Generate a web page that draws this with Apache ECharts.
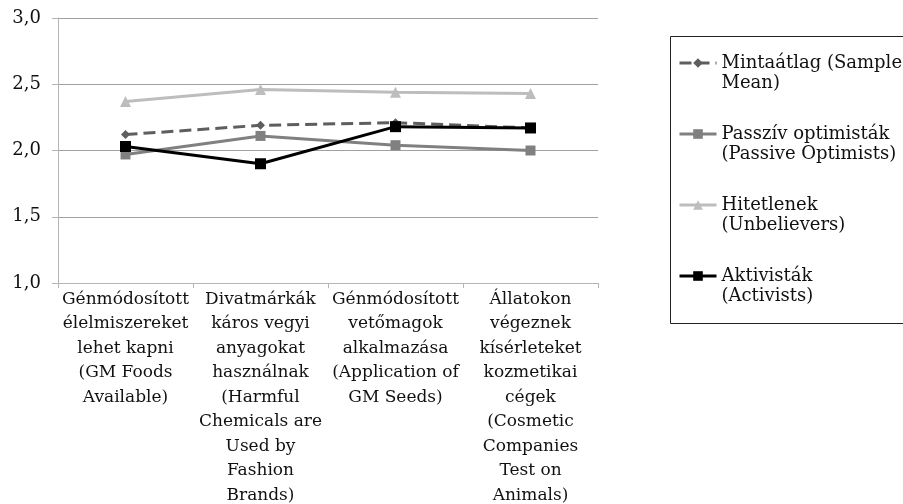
<!DOCTYPE html>
<html>
<head>
<meta charset="utf-8">
<script src="https://cdn.jsdelivr.net/npm/echarts@6/dist/echarts.min.js"></script>
<style>
  html, body { margin: 0; padding: 0; background: #fff; }
  #chart { width: 903px; height: 504px; }
</style>
</head>
<body>
<div id="chart"></div>
<script>
const categories = [
  'Génmódosított\nélelmiszereket\nlehet kapni\n(GM Foods\nAvailable)',
  'Divatmárkák\nkáros vegyi\nanyagokat\nhasználnak\n(Harmful\nChemicals are\nUsed by\nFashion\nBrands)',
  'Génmódosított\nvetőmagok\nalkalmazása\n(Application of\nGM Seeds)',
  'Állatokon\nvégeznek\nkísérleteket\nkozmetikai\ncégek\n(Cosmetic\nCompanies\nTest on\nAnimals)'
];
const seriesNames = [
  'Mintaátlag (Sample\nMean)',
  'Passzív optimisták\n(Passive Optimists)',
  'Hitetlenek\n(Unbelievers)',
  'Aktivisták\n(Activists)'
];
const sampleMean = [2.12, 2.19, 2.21, 2.17];
const passiveOptimists = [1.97, 2.11, 2.04, 2.00];
const unbelievers = [2.37, 2.46, 2.44, 2.43];
const activists = [2.03, 1.90, 2.18, 2.17];

const font = 'DejaVu Serif';

const chart = echarts.init(document.getElementById('chart'));
chart.setOption({
  animation: false,
  grid: {
    left: 58, right: 305, top: 18, bottom: 221,
    containLabel: false,
    outerBoundsMode: 'none'
  },
  legend: {
    orient: 'vertical',
    left: 678,
    top: 33,
    padding: 0,
    itemGap: 11,
    itemWidth: 37,
    itemHeight: 12,
    lineStyle: { width: 3 },
    // blank first line so the icon sits on the first text line
    formatter: name => '\u00a0\n' + name,
    textStyle: {
      fontFamily: font,
      fontSize: 18,
      lineHeight: 20,
      color: '#111'
    },
    data: seriesNames
  },
  graphic: [{
    type: 'rect',
    shape: { x: 670.5, y: 36.5, width: 400, height: 287 },
    style: { fill: 'none', stroke: '#222', lineWidth: 1 },
    silent: true
  }],
  xAxis: {
    type: 'category',
    data: categories,
    axisLine: { lineStyle: { color: '#b5b5b5', width: 1 } },
    axisTick: { show: true, length: 5, lineStyle: { color: '#b5b5b5' } },
    axisLabel: {
      interval: 0,
      margin: 4,
      fontFamily: font,
      fontSize: 17,
      lineHeight: 24.5,
      color: '#111'
    }
  },
  yAxis: {
    type: 'value',
    min: 1,
    max: 3,
    interval: 0.5,
    axisLine: { show: true, lineStyle: { color: '#b5b5b5', width: 1 } },
    axisTick: { show: true, length: 6, lineStyle: { color: '#b5b5b5' } },
    splitLine: { lineStyle: { color: '#a0a0a0', width: 1 } },
    axisLabel: {
      margin: 17,
      fontFamily: font,
      fontSize: 18,
      color: '#111',
      formatter: v => v.toFixed(1).replace('.', ',')
    }
  },
  series: [
    {
      name: seriesNames[0], type: 'line', data: sampleMean,
      symbol: 'diamond', symbolSize: 9,
      lineStyle: { color: '#5e5e5e', width: 3, type: [12, 6] },
      itemStyle: { color: '#5e5e5e' }
    },
    {
      name: seriesNames[1], type: 'line', data: passiveOptimists,
      symbol: 'rect', symbolSize: 10,
      lineStyle: { color: '#808080', width: 3 },
      itemStyle: { color: '#808080' }
    },
    {
      name: seriesNames[2], type: 'line', data: unbelievers,
      symbol: 'triangle', symbolSize: 11,
      lineStyle: { color: '#bdbdbd', width: 3 },
      itemStyle: { color: '#bdbdbd' }
    },
    {
      name: seriesNames[3], type: 'line', data: activists,
      symbol: 'rect', symbolSize: 11,
      lineStyle: { color: '#000', width: 3 },
      itemStyle: { color: '#000' }
    }
  ]
});
</script>
</body>
</html>
